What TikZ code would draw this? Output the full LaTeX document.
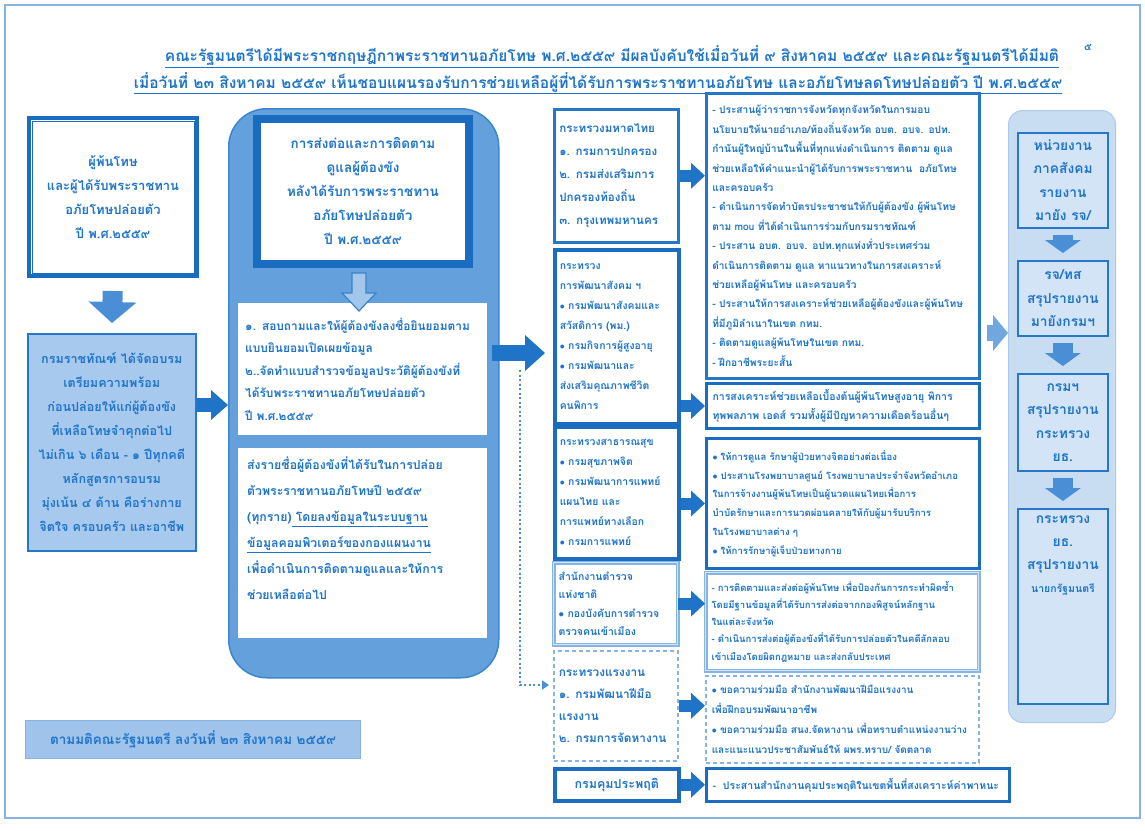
\documentclass[tikz,border=0pt]{standalone}
\usepackage{fontspec}
\newfontfamily\thai[Script=Thai]{Loma}
\usetikzlibrary{arrows.meta,calc}
\definecolor{tb}{HTML}{1E74CA}
\definecolor{bdr}{HTML}{2577C9}
\definecolor{dkb}{HTML}{1A6CC0}
\definecolor{midfill}{HTML}{64A1DC}
\definecolor{midline}{HTML}{3C86D0}
\definecolor{lightfill}{HTML}{A8C9EE}
\definecolor{frfill}{HTML}{C9DDF2}
\definecolor{frbox}{HTML}{D3E4F6}
\definecolor{softb}{HTML}{86B5E5}
\definecolor{arr}{HTML}{1F74C8}
\definecolor{arr2}{HTML}{4A8FD6}
\definecolor{arr3}{HTML}{6FA7DE}
\definecolor{notefill}{HTML}{9FC3EA}
\newcommand{\tf}[2]{\thai\bfseries\fontsize{#1}{#2}\selectfont}
\newcommand{\bu}{$\bullet$}
\tikzset{
  every node/.style={text=tb},
  bx/.style={anchor=north west, inner sep=0pt, draw=bdr, fill=white},
  mbox/.style={bx, minimum width=124, text width=114, inner xsep=5, align=left},
  rbox/.style={bx, minimum width=273, text width=261, inner xsep=6, align=left},
  frb/.style={bx, fill=frbox, draw=bdr, line width=1.8, minimum width=90, align=center, font={\tf{13.8}{23.5}}},
  blk/.style n args={3}{line width=#1pt, -{Triangle[width=#2pt,length=#3pt,line width=0pt]}},
  dbl/.style={draw=softb, line width=1.2, double=softb!35, double distance=1.5pt},
}
\begin{document}
\begin{tikzpicture}[x=1pt,y=-1pt]
\useasboundingbox (0,0) rectangle (1145,830);
\draw[softb, line width=1.5] (5,5) rectangle (1140,818);

% title
\node[font={\tf{15.5}{20}}] (t1) at (612,57) {\underline{คณะรัฐมนตรีได้มีพระราชกฤษฎีกาพระราชทานอภัยโทษ พ.ศ.๒๕๕๙ มีผลบังคับใช้เมื่อวันที่ ๙ สิงหาคม ๒๕๕๙ และคณะรัฐมนตรีได้มีมติ}};
\node[font={\tf{15.5}{20}}] (t2) at (598,83) {\underline{เมื่อวันที่ ๒๓ สิงหาคม ๒๕๕๙ เห็นชอบแผนรองรับการช่วยเหลือผู้ที่ได้รับการพระราชทานอภัยโทษ และอภัยโทษลดโทษปล่อยตัว ปี พ.ศ.๒๕๕๙}};
\node[font={\tf{10}{10}}] (pg) at (1088,47) {๕};

% left column
\node[bx, draw=dkb, line width=4, minimum width=168, minimum height=158, align=center, font={\tf{13}{24}}] (lt) at (27,116) {ผู้พ้นโทษ\\และผู้ได้รับพระราชทาน\\อภัยโทษปล่อยตัว\\ปี พ.ศ.๒๕๕๙};
\draw[dkb, line width=1] ($(lt.north west)+(5,5)$) rectangle ($(lt.south east)+(-5,-5)$);
\node[bx, fill=lightfill, draw=bdr, line width=1.5, minimum width=168, minimum height=217, align=center, font={\tf{12.6}{24}}] (lb) at (27,333) {กรมราชทัณฑ์ ได้จัดอบรม\\เตรียมความพร้อม\\ก่อนปล่อยให้แก่ผู้ต้องขัง\\ที่เหลือโทษจำคุกต่อไป\\ไม่เกิน ๖ เดือน - ๑ ปีทุกคดี\\หลักสูตรการอบรม\\มุ่งเน้น ๔ ด้าน คือร่างกาย\\จิตใจ ครอบครัว และอาชีพ};
\draw[blk={20}{48}{21}, draw=arr2, shorten <=13pt, shorten >=10pt] (lt.south) -- (lb.north);

% middle container
\node[bx, fill=midfill, draw=midline, line width=1.5, rounded corners=38, minimum width=270, minimum height=569] (mc) at (228,108) {};
\node[bx, draw=dkb, line width=8, minimum width=212, minimum height=145, align=center, font={\tf{13.5}{24}}] (mt) at (253,115) {การส่งต่อและการติดตาม\\ดูแลผู้ต้องขัง\\หลังได้รับการพระราชทาน\\อภัยโทษปล่อยตัว\\ปี พ.ศ.๒๕๕๙};
\node[bx, draw=none, minimum width=249, minimum height=132, text width=235, inner xsep=7, align=left, font={\tf{11.9}{22.5}}] (mb2) at (238,303) {๑. สอบถามและให้ผู้ต้องขังลงชื่อยินยอมตาม\\แบบยินยอมเปิดเผยข้อมูล\\๒..จัดทำแบบสำรวจข้อมูลประวัติผู้ต้องขังที่\\ได้รับพระราชทานอภัยโทษปล่อยตัว\\ปี พ.ศ.๒๕๕๙};
\coordinate (ha) at ($(mt.south)+(-4,5)$);
\draw[draw=dkb!85, fill=midfill!60!white, line width=1.2] (ha) ++(-7,0) -- ++(0,20) -- ++(-10,0) -- ++(17,18) -- ++(17,-18) -- ++(-10,0) -- ++(0,-20) -- cycle;
\node[bx, draw=none, minimum width=249, minimum height=190] (mb3) at (238,448) {};
\node[anchor=north west, inner sep=0pt, align=left, font={\tf{12.3}{26}}] (mb3t) at ($(mb3.north west)+(9,9)$) {ส่งรายชื่อผู้ต้องขังที่ได้รับในการปล่อย\\ตัวพระราชทานอภัยโทษปี ๒๕๕๙\\(ทุกราย)\underline{ โดยลงข้อมูลในระบบฐาน}\\\underline{ข้อมูลคอมพิวเตอร์ของกองแผนงาน}\\เพื่อดำเนินการติดตามดูแลและให้การ\\ช่วยเหลือต่อไป};

\coordinate (la) at ([yshift=-72pt]lb.north east);
\draw[blk={14}{30}{17}, draw=arr] (la) -- (la -| mc.west);

% ministries
\node[mbox, draw=bdr, line width=2.5, minimum height=133, font={\tf{11.6}{23}}] (m1) at (553,108) {กระทรวงมหาดไทย\\๑. กรมการปกครอง\\๒. กรมส่งเสริมการ\\ปกครองท้องถิ่น\\๓. กรุงเทพมหานคร};
\node[mbox, draw=dkb, line width=3.5, minimum height=174, font={\tf{10.4}{20}}] (m2) at (553,248) {กระทรวง\\การพัฒนาสังคม ฯ\\\bu{} กรมพัฒนาสังคมและ\\สวัสดิการ (พม.)\\\bu{} กรมกิจการผู้สูงอายุ\\\bu{} กรมพัฒนาและ\\ส่งเสริมคุณภาพชีวิต\\คนพิการ};
\node[mbox, draw=dkb, line width=3.5, minimum height=132, font={\tf{10.4}{20}}] (m3) at (553,425) {กระทรวงสาธารณสุข\\\bu{} กรมสุขภาพจิต\\\bu{} กรมพัฒนาการแพทย์\\แผนไทย และ\\การแพทย์ทางเลือก\\\bu{} กรมการแพทย์};
\node[mbox, dbl, minimum height=82, font={\tf{10.5}{18.5}}] (m4) at (553,562) {สำนักงานตำรวจ\\แห่งชาติ\\\bu{} กองบังคับการตำรวจ\\ตรวจคนเข้าเมือง};
\node[mbox, draw=softb, line width=1.5, dash pattern=on 4pt off 3pt, minimum height=110, font={\tf{11.8}{22}}] (m5) at (553,650) {กระทรวงแรงงาน\\๑. กรมพัฒนาฝีมือ\\แรงงาน\\๒. กรมการจัดหางาน};
\node[mbox, draw=dkb, line width=3.5, minimum height=32, align=center, font={\tf{12.5}{20}}] (m6) at (553,767) {กรมคุมประพฤติ};

\coordinate (ba) at ([xshift=-8pt,yshift=-245pt]mc.north east);
\draw[blk={16}{36}{20}, draw=arr, shorten >=8pt] (ba) -- (ba -| m1.west);
\coordinate (dj) at ([xshift=20pt,yshift=-262pt]mc.north east);
\draw[arr2, line width=2, dash pattern=on 2pt off 2.5pt, -{Triangle[width=9pt,length=7pt]}, shorten >=4pt] (dj) |- ([yshift=-35pt]m5.north west);

% right boxes
\node[rbox, draw=bdr, line width=2.5, minimum height=285, font={\tf{10.2}{19.4}}] (r1) at (705,92) {- ประสานผู้ว่าราชการจังหวัดทุกจังหวัดในการมอบ\\นโยบายให้นายอำเภอ/ท้องถิ่นจังหวัด อบต. อบจ. อปท.\\กำนันผู้ใหญ่บ้านในพื้นที่ทุกแห่งดำเนินการ ติดตาม ดูแล\\ช่วยเหลือให้คำแนะนำผู้ได้รับการพระราชทาน\ \ อภัยโทษ\\และครอบครัว\\- ดำเนินการจัดทำบัตรประชาชนให้กับผู้ต้องขัง ผู้พ้นโทษ\\ตาม mou ที่ได้ดำเนินการร่วมกับกรมราชทัณฑ์\\- ประสาน อบต. อบจ. อปท.ทุกแห่งทั่วประเทศร่วม\\ดำเนินการติดตาม ดูแล หาแนวทางในการสงเคราะห์\\ช่วยเหลือผู้พ้นโทษ และครอบครัว\\- ประสานให้การสงเคราะห์ช่วยเหลือผู้ต้องขังและผู้พ้นโทษ\\ที่มีภูมิลำเนาในเขต กทม.\\- ติดตามดูแลผู้พ้นโทษในเขต กทม.\\- ฝึกอาชีพระยะสั้น};
\node[rbox, draw=dkb, line width=3, minimum height=45, font={\tf{10.5}{19}}] (r2) at (705,382) {การสงเคราะห์ช่วยเหลือเบื้องต้นผู้พ้นโทษสูงอายุ พิการ\\ทุพพลภาพ เอดส์ รวมทั้งผู้มีปัญหาความเดือดร้อนอื่นๆ};
\node[rbox, draw=dkb, line width=3, minimum height=130, font={\tf{9.6}{18.8}}] (r3) at (705,437) {\bu{} ให้การดูแล รักษาผู้ป่วยทางจิตอย่างต่อเนื่อง\\\bu{} ประสานโรงพยาบาลศูนย์ โรงพยาบาลประจำจังหวัดอำเภอ\\ในการจ้างงานผู้พ้นโทษเป็นผู้นวดแผนไทยเพื่อการ\\บำบัดรักษาและการนวดผ่อนคลายให้กับผู้มารับบริการ\\ในโรงพยาบาลต่าง ๆ\\\bu{} ให้การรักษาผู้เจ็บป่วยทางกาย};
\node[rbox, dbl, minimum height=98, font={\tf{9.5}{17.2}}] (r4) at (705,572) {- การติดตามและส่งต่อผู้พ้นโทษ เพื่อป้องกันการกระทำผิดซ้ำ\\โดยมีฐานข้อมูลที่ได้รับการส่งต่อจากกองพิสูจน์หลักฐาน\\ในแต่ละจังหวัด\\- ดำเนินการส่งต่อผู้ต้องขังที่ได้รับการปล่อยตัวในคดีลักลอบ\\เข้าเมืองโดยผิดกฎหมาย และส่งกลับประเทศ};
\node[rbox, draw=softb, line width=1.5, dash pattern=on 4pt off 3pt, minimum height=87, font={\tf{10}{20}}] (r5) at (705,675) {\bu{} ขอความร่วมมือ สำนักงานพัฒนาฝีมือแรงงาน\\เพื่อฝึกอบรมพัฒนาอาชีพ\\\bu{} ขอความร่วมมือ สนง.จัดหางาน เพื่อทราบตำแหน่งงานว่าง\\และแนะแนวประชาสัมพันธ์ให้ ผพร.ทราบ/ จัดตลาด};
\node[rbox, draw=dkb, line width=3, minimum width=303, text width=291, minimum height=33, font={\tf{10.5}{19}}] (r6) at (705,767) {- \ ประสานสำนักงานคุมประพฤติในเขตพื้นที่สงเคราะห์ค่าพาหนะ};

\draw[blk={12}{26}{14}, draw=arr] (m1.east) -- (m1.east -| r1.west);
\draw[blk={12}{26}{14}, draw=arr] (m2.east |- r2.west) -- (r2.west);
\draw[blk={12}{26}{14}, draw=arr] (m3.east |- r3.west) -- (r3.west);
\draw[blk={12}{26}{14}, draw=arr] (m4.east) -- (m4.east -| r4.west);
\draw[blk={12}{26}{14}, draw=arr] (m5.east) -- (m5.east -| r5.west);
\draw[blk={12}{26}{14}, draw=arr] (m6.east) -- (m6.east -| r6.west);

% far right column
\node[bx, fill=frfill, draw=softb!70, line width=1, rounded corners=14, minimum width=107, minimum height=612] (frc) at (1008,110) {};
\node[frb, minimum height=95] (fr1) at (1017,132) {หน่วยงาน\\ภาคสังคม\\รายงาน\\มายัง รจ/};
\node[frb, minimum height=75] (fr2) at (1017,260) {รจ/ทส\\สรุปรายงาน\\มายังกรมฯ};
\node[frb, minimum height=97] (fr3) at (1017,373) {กรมฯ\\สรุปรายงาน\\กระทรวง\\ยธ.};
\node[frb, minimum height=195] (fr4) at (1017,508) {};
\node[anchor=north, inner sep=0pt, align=center, font={\tf{13.8}{23}}] (fr4t) at ([yshift=-8pt]fr4.north) {กระทรวง\\ยธ.\\สรุปรายงาน\\{\fontsize{10.5}{20}\selectfont นายกรัฐมนตรี}};
\draw[blk={20}{36}{13}, draw=arr2, shorten <=6pt, shorten >=7pt] (fr1.south) -- (fr2.north);
\draw[blk={20}{36}{13}, draw=arr2, shorten <=6pt, shorten >=7pt] (fr2.south) -- (fr3.north);
\draw[blk={20}{36}{13}, draw=arr2, shorten <=6pt, shorten >=7pt] (fr3.south) -- (fr4.north);

\coordinate (ra) at ([xshift=6pt,yshift=-241pt]r1.north east);
\draw[blk={16}{36}{15}, draw=arr3] (ra) -- (ra -| frc.west);

% note
\node[bx, fill=notefill, draw=softb, line width=1, minimum width=335, minimum height=38, align=center, font={\tf{13.5}{20}}] (note) at (25,720) {ตามมติคณะรัฐมนตรี ลงวันที่ ๒๓ สิงหาคม ๒๕๕๙};
\end{tikzpicture}
\end{document}
